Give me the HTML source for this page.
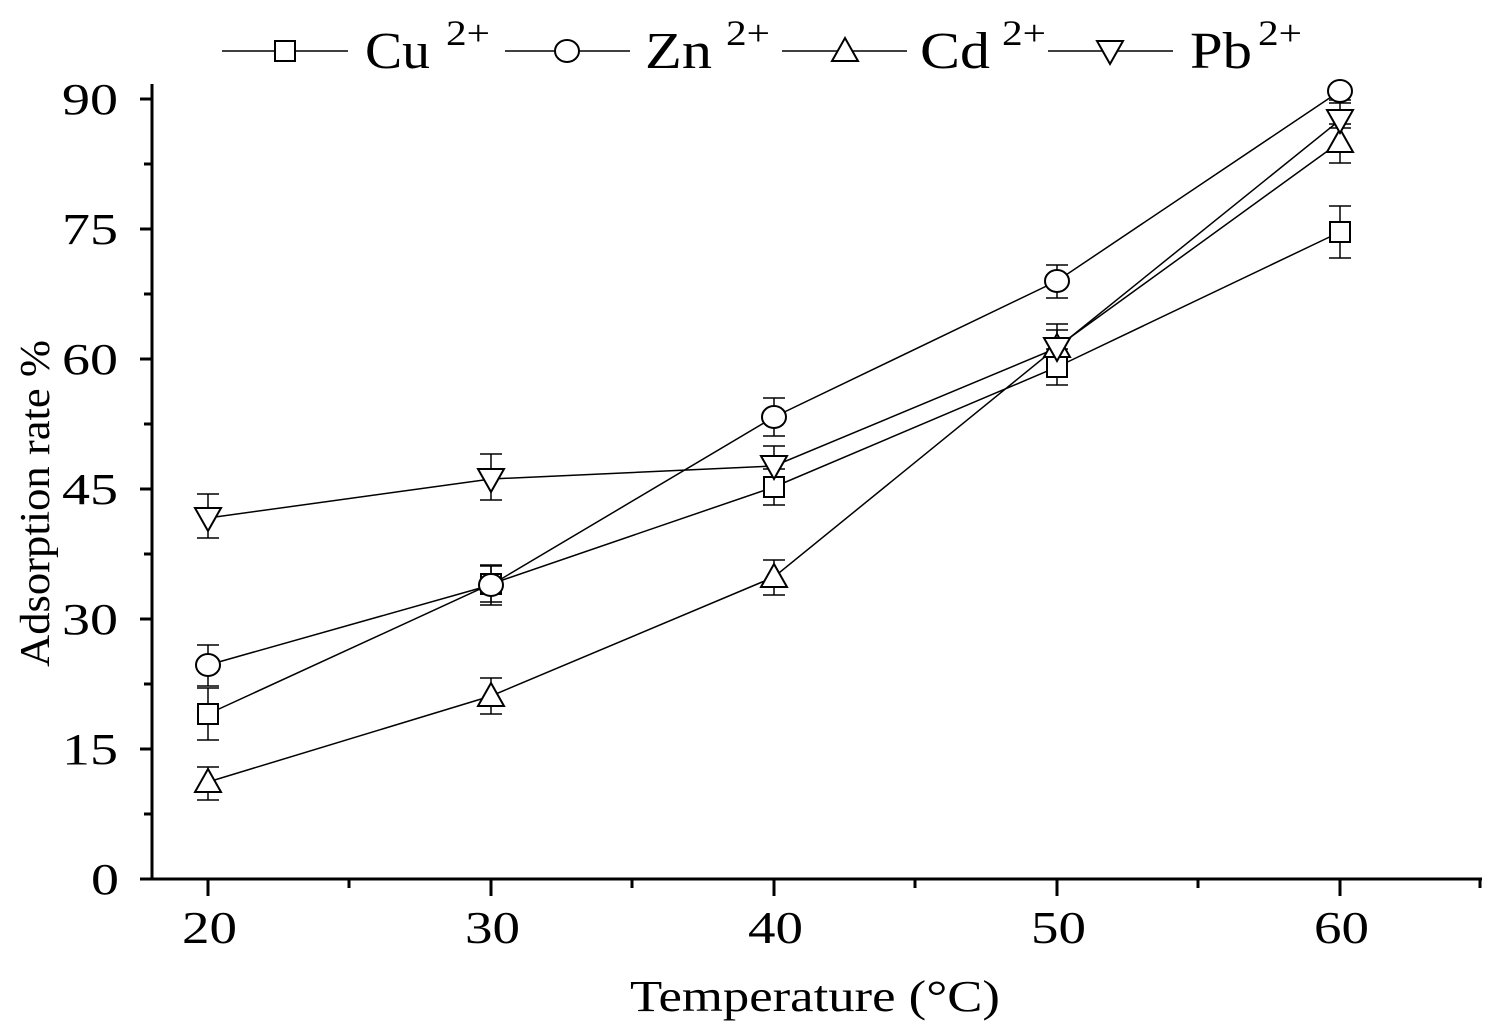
<!DOCTYPE html>
<html><head><style>body{margin:0;background:#fff}svg{display:block}</style></head><body>
<svg width="1501" height="1035" xmlns="http://www.w3.org/2000/svg" font-family="Liberation Serif, serif">
<defs>
<g id="sq"><rect x="-10" y="-10" width="20" height="20" fill="#fff" stroke="#000" stroke-width="2"/></g>
<g id="ci"><ellipse cx="0" cy="0" rx="12" ry="11" fill="#fff" stroke="#000" stroke-width="2"/></g>
<g id="tu"><polygon points="0,-13 13,10 -13,10" fill="#fff" stroke="#000" stroke-width="2"/></g>
<g id="td"><polygon points="0,13 13,-10 -13,-10" fill="#fff" stroke="#000" stroke-width="2"/></g>
</defs>
<g stroke="#000" stroke-width="3" fill="none">
<line x1="152" y1="84" x2="152" y2="880"/>
<line x1="150" y1="879" x2="1482" y2="879"/>
<line x1="140" y1="99" x2="152" y2="99"/><line x1="140" y1="229" x2="152" y2="229"/><line x1="140" y1="359" x2="152" y2="359"/><line x1="140" y1="489" x2="152" y2="489"/><line x1="140" y1="619" x2="152" y2="619"/><line x1="140" y1="749" x2="152" y2="749"/><line x1="140" y1="879" x2="152" y2="879"/>
<line x1="144" y1="164" x2="152" y2="164"/><line x1="144" y1="294" x2="152" y2="294"/><line x1="144" y1="424" x2="152" y2="424"/><line x1="144" y1="554" x2="152" y2="554"/><line x1="144" y1="684" x2="152" y2="684"/><line x1="144" y1="814" x2="152" y2="814"/>
<line x1="208" y1="879" x2="208" y2="896"/><line x1="491" y1="879" x2="491" y2="896"/><line x1="774" y1="879" x2="774" y2="896"/><line x1="1057" y1="879" x2="1057" y2="896"/><line x1="1340" y1="879" x2="1340" y2="896"/>
<line x1="349" y1="879" x2="349" y2="888"/><line x1="632" y1="879" x2="632" y2="888"/><line x1="915" y1="879" x2="915" y2="888"/><line x1="1198" y1="879" x2="1198" y2="888"/><line x1="1480" y1="879" x2="1480" y2="888"/>
</g>
<g font-size="44">
<text x="62" y="114" textLength="56" lengthAdjust="spacingAndGlyphs">90</text>
<text x="62" y="244" textLength="56" lengthAdjust="spacingAndGlyphs">75</text>
<text x="62" y="374" textLength="56" lengthAdjust="spacingAndGlyphs">60</text>
<text x="62" y="504" textLength="56" lengthAdjust="spacingAndGlyphs">45</text>
<text x="62" y="634" textLength="56" lengthAdjust="spacingAndGlyphs">30</text>
<text x="62" y="764" textLength="56" lengthAdjust="spacingAndGlyphs">15</text>
<text x="91" y="894" textLength="28" lengthAdjust="spacingAndGlyphs">0</text>
</g>
<g font-size="46">
<text x="182" y="943" textLength="55" lengthAdjust="spacingAndGlyphs">20</text>
<text x="465" y="943" textLength="55" lengthAdjust="spacingAndGlyphs">30</text>
<text x="748" y="943" textLength="55" lengthAdjust="spacingAndGlyphs">40</text>
<text x="1031" y="943" textLength="55" lengthAdjust="spacingAndGlyphs">50</text>
<text x="1314" y="943" textLength="55" lengthAdjust="spacingAndGlyphs">60</text>
</g>
<text x="630" y="1011" font-size="44" textLength="370" lengthAdjust="spacingAndGlyphs">Temperature (°C)</text>
<text transform="translate(49,667) rotate(-90)" font-size="42" textLength="327" lengthAdjust="spacingAndGlyphs">Adsorption rate %</text>
<g stroke="#000" stroke-width="1.5">
<path d="M208 688V740M197 688H219M197 740H219 M491 566V602M480 566H502M480 602H502 M774 469V505M763 469H785M763 505H785 M1057 349V385M1046 349H1068M1046 385H1068 M1340 206V258M1329 206H1351M1329 258H1351"/>
<path d="M208 645V686M197 645H219M197 686H219 M491 565V605M480 565H502M480 605H502 M774 398V436M763 398H785M763 436H785 M1057 265V298M1046 265H1068M1046 298H1068 M1340 81V103M1329 103H1351"/>
<path d="M208 767V800M197 767H219M197 800H219 M491 678V714M480 678H502M480 714H502 M774 560V595M763 560H785M763 595H785 M1057 330V364M1046 330H1068M1046 364H1068 M1340 124V163M1329 124H1351M1329 163H1351"/>
<path d="M208 494V538M197 494H219M197 538H219 M491 454V500M480 454H502M480 500H502 M774 446V486M763 446H785M763 486H785 M1057 324V370M1046 324H1068M1046 370H1068 M1340 100V128M1329 100H1351M1329 128H1351"/>
</g>
<g stroke="#000" stroke-width="1.5" fill="none">
<polyline points="208,714 491,584 774,487 1057,367 1340,232"/>
<polyline points="208,665 491,585 774,417 1057,281 1340,91"/>
<polyline points="208,782 491,696 774,577 1057,347 1340,142"/>
<polyline points="208,518 491,479 774,466 1057,348 1340,120"/>
<line x1="222" y1="51" x2="348" y2="51"/><line x1="505" y1="51" x2="630" y2="51"/><line x1="782" y1="51" x2="907" y2="51"/><line x1="1048" y1="51" x2="1173" y2="51"/>
</g>
<use href="#sq" x="208" y="714"/><use href="#sq" x="491" y="584"/><use href="#sq" x="774" y="487"/><use href="#sq" x="1057" y="367"/><use href="#sq" x="1340" y="232"/>
<use href="#ci" x="208" y="665"/><use href="#ci" x="491" y="585"/><use href="#ci" x="774" y="417"/><use href="#ci" x="1057" y="281"/><use href="#ci" x="1340" y="91"/>
<use href="#tu" x="208" y="782"/><use href="#tu" x="491" y="696"/><use href="#tu" x="774" y="577"/><use href="#tu" x="1057" y="347"/><use href="#tu" x="1340" y="142"/>
<use href="#td" x="208" y="518"/><use href="#td" x="491" y="479"/><use href="#td" x="774" y="466"/><use href="#td" x="1057" y="348"/><use href="#td" x="1340" y="120"/>
<use href="#sq" x="285" y="51"/><use href="#ci" x="567" y="51"/><use href="#tu" x="845" y="51"/><use href="#td" x="1110" y="51"/>
<g font-size="52">
<text x="365" y="68" textLength="65" lengthAdjust="spacingAndGlyphs">Cu</text><text x="446" y="45" font-size="36" textLength="44" lengthAdjust="spacingAndGlyphs">2+</text>
<text x="645" y="68" textLength="67" lengthAdjust="spacingAndGlyphs">Zn</text><text x="726" y="45" font-size="36" textLength="44" lengthAdjust="spacingAndGlyphs">2+</text>
<text x="920" y="68" textLength="70" lengthAdjust="spacingAndGlyphs">Cd</text><text x="1002" y="45" font-size="36" textLength="44" lengthAdjust="spacingAndGlyphs">2+</text>
<text x="1190" y="68" textLength="62" lengthAdjust="spacingAndGlyphs">Pb</text><text x="1258" y="45" font-size="36" textLength="44" lengthAdjust="spacingAndGlyphs">2+</text>
</g>
</svg>
</body></html>
